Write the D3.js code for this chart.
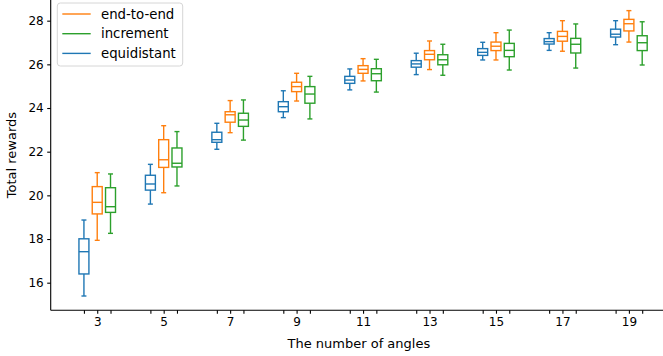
<!DOCTYPE html>
<html>
<head>
<meta charset="utf-8">
<script src="https://cdn.jsdelivr.net/npm/d3@7"></script>
<style>
  html, body { margin: 0; padding: 0; background: #fff; }
  svg { display: block; font-family: "DejaVu Sans", sans-serif; }
</style>
</head>
<body>
<div id="chart"></div>
<script>
// Number of angles on the x axis
const angles = [3, 5, 7, 9, 11, 13, 15, 17, 19];

// Box summaries per angle: [lower whisker, Q1, median, Q3, upper whisker]
const equidistant = [
  [15.39, 16.40, 17.42, 18.01, 18.87],
  [19.60, 20.24, 20.52, 20.92, 21.42],
  [22.11, 22.43, 22.55, 22.89, 23.30],
  [23.56, 23.83, 24.06, 24.29, 24.79],
  [24.83, 25.13, 25.28, 25.45, 25.79],
  [25.53, 25.87, 26.02, 26.17, 26.51],
  [26.20, 26.41, 26.55, 26.72, 27.01],
  [26.64, 26.93, 27.04, 27.18, 27.45],
  [26.90, 27.25, 27.38, 27.61, 28.00]
];
const endToEnd = [
  [17.94, 19.15, 19.68, 20.40, 21.04],
  [20.12, 21.28, 21.63, 22.55, 23.19],
  [22.87, 23.35, 23.69, 23.83, 24.34],
  [24.32, 24.75, 24.98, 25.18, 25.59],
  [25.24, 25.59, 25.77, 25.94, 26.26],
  [25.76, 26.21, 26.46, 26.63, 27.07],
  [26.20, 26.63, 26.83, 27.02, 27.45],
  [26.60, 27.06, 27.28, 27.51, 28.00],
  [27.02, 27.53, 27.86, 28.06, 28.46]
];
const increment = [
  [18.26, 19.22, 19.48, 20.35, 20.98],
  [20.43, 21.30, 21.47, 22.17, 22.92],
  [22.53, 23.16, 23.45, 23.76, 24.37],
  [23.50, 24.22, 24.64, 24.98, 25.45],
  [24.73, 25.25, 25.57, 25.80, 26.23],
  [25.50, 25.98, 26.21, 26.44, 26.92],
  [25.74, 26.35, 26.64, 26.96, 27.57],
  [25.83, 26.52, 26.92, 27.19, 27.85],
  [25.97, 26.63, 26.99, 27.31, 27.95]
];

const seriesNames = ["equidistant", "end-to-end", "increment"];
const seriesColors = ["#1f77b4", "#ff7f0e", "#2ca02c"];
const seriesOffsets = [-0.4, 0, 0.4];
const seriesData = [equidistant, endToEnd, increment];
const legendOrder = ["end-to-end", "increment", "equidistant"];
const yTicks = [16, 18, 20, 22, 24, 26, 28];

const width = 663, height = 356;
const boxWidth = 0.3;   // in x units
const capWidth = 0.15;

const svg = d3.select("#chart").append("svg")
  .attr("width", width).attr("height", height);

const x = d3.scaleLinear().domain([1.6, 20.4]).range([50.7, 50.7 + 18.8 * 33.23]);
const y = d3.scaleLinear().domain([14.74, 28.75]).range([310.2, 4.3]);

// Boxes
seriesData.forEach((rows, si) => {
  const color = seriesColors[si];
  const g = svg.append("g").attr("class", "series")
    .attr("stroke", color).attr("fill", "none").attr("stroke-width", 1.4);
  rows.forEach((r, i) => {
    const cx = angles[i] + seriesOffsets[si];
    const [lo, q1, med, q3, hi] = r;
    const bx0 = x(cx - boxWidth / 2), bx1 = x(cx + boxWidth / 2);
    const cx0 = x(cx - capWidth / 2), cx1 = x(cx + capWidth / 2);
    const xm = x(cx);
    // whiskers
    g.append("line").attr("x1", xm).attr("x2", xm).attr("y1", y(q1)).attr("y2", y(lo));
    g.append("line").attr("x1", xm).attr("x2", xm).attr("y1", y(q3)).attr("y2", y(hi));
    // caps
    g.append("line").attr("x1", cx0).attr("x2", cx1).attr("y1", y(lo)).attr("y2", y(lo));
    g.append("line").attr("x1", cx0).attr("x2", cx1).attr("y1", y(hi)).attr("y2", y(hi));
    // box
    g.append("rect").attr("x", bx0).attr("y", y(q3))
      .attr("width", bx1 - bx0).attr("height", y(q1) - y(q3));
    // median
    g.append("line").attr("x1", bx0).attr("x2", bx1).attr("y1", y(med)).attr("y2", y(med));
  });
});

// Axes
const xTickVals = [];
angles.forEach(a => seriesOffsets.forEach(o => xTickVals.push(a + o)));
const xAxis = d3.axisBottom(x)
  .tickValues(xTickVals)
  .tickSize(3.5).tickPadding(3.5)
  .tickFormat(d => {
    const r = Math.round(d);
    return Math.abs(d - r) < 1e-6 && angles.includes(r) ? String(r) : "";
  });
const gx = svg.append("g").attr("transform", `translate(0,${y.range()[0]})`).call(xAxis);
gx.select(".domain").attr("d", `M${x.range()[0]},0H${width}`);

const yAxis = d3.axisLeft(y).tickValues(yTicks).tickSize(3.5).tickPadding(3.5)
  .tickFormat(d3.format("d"));
const gy = svg.append("g").attr("transform", `translate(${x.range()[0]},0)`).call(yAxis);
gy.select(".domain").attr("d", `M0,${y.range()[0]}V0`);

[gx, gy].forEach(g => {
  g.select(".domain").attr("stroke", "#000").attr("stroke-width", 1.1);
  g.selectAll(".tick line").attr("stroke", "#000").attr("stroke-width", 1.1);
  g.selectAll(".tick text").attr("fill", "#000")
    .attr("font-family", "DejaVu Sans, sans-serif").attr("font-size", 12);
});

// Axis titles
svg.append("text")
  .attr("x", (x.range()[0] + 663) / 2 + 2).attr("y", 348)
  .attr("text-anchor", "middle").attr("font-size", 13).attr("fill", "#000")
  .text("The number of angles");
svg.append("text")
  .attr("transform", `translate(16,${(y.range()[0] + 0) / 2}) rotate(-90)`)
  .attr("text-anchor", "middle").attr("font-size", 13).attr("fill", "#000")
  .text("Total rewards");

// Legend
const legend = svg.append("g").attr("transform", "translate(57.3,3)");
legend.append("rect")
  .attr("x", 0).attr("y", 0).attr("width", 125.4).attr("height", 63)
  .attr("rx", 3).attr("fill", "#fff").attr("fill-opacity", 0.8)
  .attr("stroke", "#d6d6d6").attr("stroke-width", 1);
legendOrder.forEach((name, i) => {
  const si = seriesNames.indexOf(name);
  const ly = 11 + i * 19.7;
  legend.append("line")
    .attr("x1", 5).attr("x2", 33.4).attr("y1", ly).attr("y2", ly)
    .attr("stroke", seriesColors[si]).attr("stroke-width", 1.4);
  legend.append("text")
    .attr("x", 43.7).attr("y", ly).attr("dy", "0.35em")
    .attr("font-size", 13.3).attr("fill", "#000")
    .text(name);
});
</script>
</body>
</html>
